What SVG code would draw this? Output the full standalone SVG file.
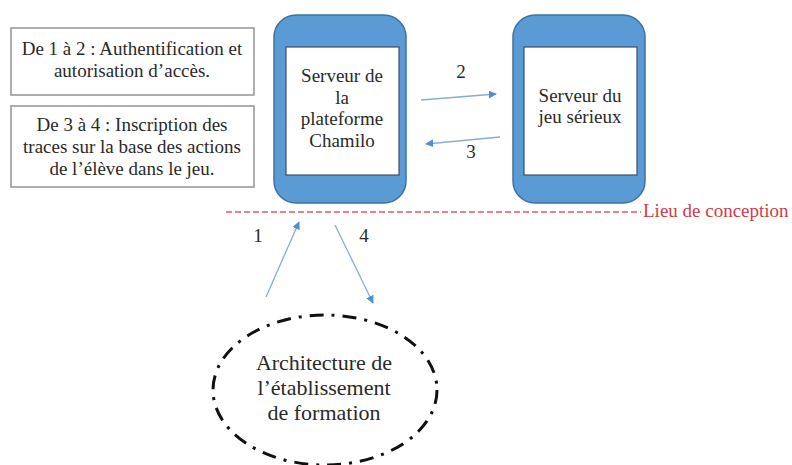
<svg xmlns="http://www.w3.org/2000/svg" width="792" height="465" viewBox="0 0 792 465">
<style>
text{font-family:"Liberation Serif","Times New Roman",serif;fill:#2a2a2a;text-anchor:middle}
.t{font-size:19px}
.big{font-size:22px}
.note{fill:#fff;stroke:#9a9a9a;stroke-width:1.6}
.srv{fill:#5b9bd5;stroke:#41719c;stroke-width:1.5}
.inner{fill:#fff;stroke:#3c4f66;stroke-width:1.2}
.arr{stroke:#86acd6;stroke-width:1.3;fill:none;marker-end:url(#ah)}
.red{fill:#cf3b47;text-anchor:start}
</style>
<defs>
<marker id="ah" viewBox="0 0 10 10" refX="9" refY="5" markerWidth="8" markerHeight="8" markerUnits="userSpaceOnUse" orient="auto">
<path d="M0,0 L10,5 L0,10 z" fill="#4f8fd0"/>
</marker>
</defs>
<rect width="792" height="465" fill="#fff"/>
<g id="note1">
<rect class="note" x="11" y="28" width="243" height="67"/>
<text class="t" x="132" y="55">De 1 à 2 : Authentification et</text>
<text class="t" x="132" y="77">autorisation d’accès.</text>
</g>
<g id="note2">
<rect class="note" x="11" y="106" width="243" height="81"/>
<text class="t" x="132" y="131">De 3 à 4 : Inscription des</text>
<text class="t" x="132" y="153">traces sur la base des actions</text>
<text class="t" x="132" y="175">de l’élève dans le jeu.</text>
</g>
<g id="chamilo">
<rect class="srv" x="274" y="15" width="132" height="188" rx="22"/>
<rect class="inner" x="286" y="47" width="113" height="128"/>
<text class="t" x="342" y="82">Serveur de</text>
<text class="t" x="342" y="104">la</text>
<text class="t" x="342" y="125">plateforme</text>
<text class="t" x="342" y="147">Chamilo</text>
</g>
<g id="jeu">
<rect class="srv" x="513" y="15" width="132" height="188" rx="22"/>
<rect class="inner" x="524" y="47" width="113" height="128"/>
<text class="t" x="580" y="102">Serveur du</text>
<text class="t" x="580" y="123">jeu sérieux</text>
</g>
<g id="lieu">
<line x1="226" y1="212" x2="641" y2="212" stroke="#e25b64" stroke-width="1.6" stroke-dasharray="6 3"/>
<text class="t red" x="643" y="217">Lieu de conception</text>
</g>
<g id="etablissement">
<ellipse cx="325" cy="390" rx="112" ry="75" fill="none" stroke="#111" stroke-width="3" stroke-dasharray="14 8 3 8"/>
<text class="big" x="324" y="370">Architecture de</text>
<text class="big" x="324" y="395">l’établissement</text>
<text class="big" x="324" y="420">de formation</text>
</g>
<g id="connectors">
<line class="arr" x1="421" y1="100" x2="496" y2="94"/>
<text class="t" x="461" y="78">2</text>
<line class="arr" x1="500" y1="137" x2="426" y2="144"/>
<text class="t" x="471" y="158">3</text>
<line class="arr" x1="266" y1="297" x2="299" y2="222"/>
<text class="t" x="258" y="242">1</text>
<line class="arr" x1="335" y1="225" x2="373" y2="303"/>
<text class="t" x="364" y="242">4</text>
</g>
</svg>
